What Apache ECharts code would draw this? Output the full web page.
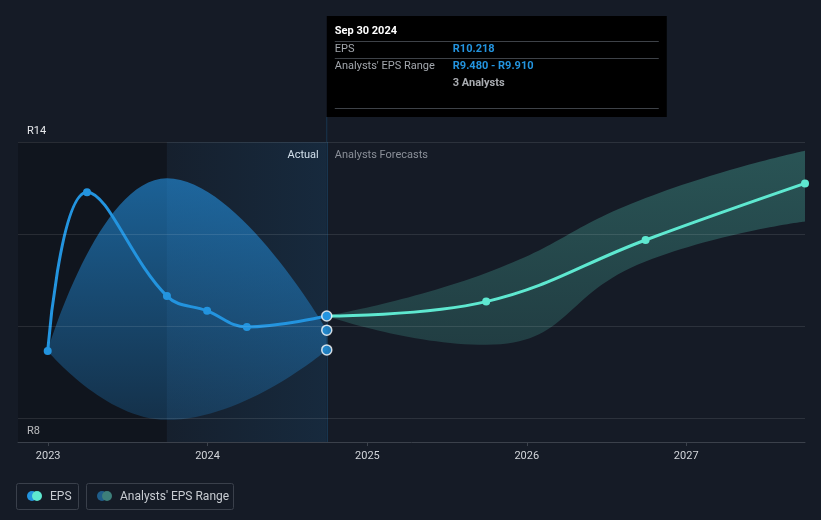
<!DOCTYPE html>
<html>
<head>
<meta charset="utf-8">
<script src="https://cdn.jsdelivr.net/npm/echarts@6/dist/echarts.min.js"></script>
<style>
  html, body { margin: 0; padding: 0; background: #151b26; }
  #chart { width: 821px; height: 520px; }
</style>
</head>
<body>
<div id="chart"></div>
<script>
// EPS data (ZAR)
const pastDates = ['2022-12-31', '2023-03-31', '2023-09-30', '2023-12-31', '2024-03-31', '2024-09-30'];
const pastEps = [9.457, 12.91, 10.65, 10.33, 9.98, 10.218];

const rangeDates = ['2022-12-31', '2023-09-30', '2024-09-30'];
const rangeLow = [9.457, 7.96, 9.48];
const rangeHigh = [9.457, 13.21, 9.91];

const fcDates = ['2024-09-30', '2025-09-30', '2026-09-30', '2027-09-30'];
const fcEps = [10.218, 10.53, 11.87, 13.10];
const fcLow = [10.218, 9.59, 11.40, 12.27];
const fcHigh = [10.218, 11.15, 12.78, 13.81];

const yearTicks = ['2023-01-01', '2024-01-01', '2025-01-01', '2026-01-01', '2027-01-01'];
const gridValues = [8, 10, 12, 14];
const nowDate = '2024-09-30';
const startDate = '2022-10-24';
const endDate = '2027-09-30';

const BLUE = '#2394df';
const TEAL = '#5ee8d0';
const FONT = 'Roboto, "Noto Sans", sans-serif';

const t = d => echarts.time.parse(d).getTime();
// rows are [value, time] so the value column is the one that gets stacked
const rows = (dates, vals) => dates.map((d, i) => [vals[i], t(d)]);
const diffRows = (dates, lo, hi) => dates.map((d, i) => [+(hi[i] - lo[i]).toFixed(3), t(d)]);
const enc = { x: 1, y: 0 };

const chart = echarts.init(document.getElementById('chart'));

chart.setOption({
  backgroundColor: '#151b26',
  animation: false,
  textStyle: { fontFamily: FONT },
  grid: { left: 18, right: 16, top: 142, bottom: 78 },
  xAxis: {
    type: 'value',
    min: t(startDate),
    max: t(endDate),
    axisLine: { lineStyle: { color: '#3b414b', width: 1 } },
    axisTick: {
      show: true, length: 4, lineStyle: { color: '#3b414b' },
      customValues: yearTicks.map(t)
    },
    axisLabel: {
      color: '#d2d5da', fontSize: 11, margin: 9, fontFamily: FONT,
      customValues: yearTicks.map(t),
      formatter: v => String(new Date(v + 43200000).getFullYear())
    },
    splitLine: { show: false }
  },
  yAxis: {
    type: 'value',
    min: 14 - 300 / 46,
    max: 14,
    axisLine: { show: false },
    axisTick: { show: false },
    axisLabel: { show: false },
    splitLine: { show: false }
  },
  series: [
    {
      // background regions + grid lines
      type: 'line',
      data: [],
      z: 0,
      markArea: {
        silent: true,
        data: [
          [{ xAxis: t(startDate), itemStyle: { color: 'rgba(0,0,0,0.2)' } }, { xAxis: t('2023-09-30') }],
          [{
            xAxis: t('2023-09-30'),
            itemStyle: {
              color: new echarts.graphic.LinearGradient(0, 0, 1, 0, [
                { offset: 0, color: 'rgba(35,148,230,0.04)' },
                { offset: 1, color: 'rgba(35,148,230,0.12)' }
              ])
            }
          }, { xAxis: t(nowDate) }]
        ]
      },
      markLine: {
        silent: true,
        symbol: ['none', 'none'],
        label: { show: false },
        lineStyle: { type: 'solid', color: 'rgba(255,255,255,0.1)', width: 1 },
        data: gridValues.map(v => ({ yAxis: v })).concat([
          { xAxis: t(nowDate), lineStyle: { color: 'rgba(35,148,230,0.22)' } }
        ])
      }
    },
    {
      type: 'line', stack: 'past', data: rows(rangeDates, rangeLow), encode: enc,
      smooth: 0.5, symbol: 'none', lineStyle: { width: 0 }, z: 1, silent: true
    },
    {
      type: 'line', stack: 'past', data: diffRows(rangeDates, rangeLow, rangeHigh), encode: enc,
      smooth: 0.5, symbol: 'none', lineStyle: { width: 0 }, z: 1, silent: true,
      areaStyle: {
        opacity: 1,
        color: new echarts.graphic.LinearGradient(0, 0, 0, 1, [
          { offset: 0, color: 'rgba(35,148,230,0.6)' },
          { offset: 1, color: 'rgba(35,148,230,0.22)' }
        ])
      }
    },
    {
      type: 'line', stack: 'fc', data: rows(fcDates, fcLow), encode: enc,
      smooth: 0.5, symbol: 'none', lineStyle: { width: 0 }, z: 1, silent: true
    },
    {
      type: 'line', stack: 'fc', data: diffRows(fcDates, fcLow, fcHigh), encode: enc,
      smooth: 0.5, symbol: 'none', lineStyle: { width: 0 }, z: 1, silent: true,
      areaStyle: {
        opacity: 1,
        color: new echarts.graphic.LinearGradient(0, 0, 0, 1, [
          { offset: 0, color: 'rgba(94,232,208,0.28)' },
          { offset: 1, color: 'rgba(94,232,208,0.17)' }
        ])
      }
    },
    {
      name: 'EPS', type: 'line', data: rows(pastDates, pastEps), encode: enc,
      smooth: 0.4, z: 3,
      symbol: 'circle', symbolSize: 8,
      lineStyle: { color: BLUE, width: 3 },
      itemStyle: { color: BLUE }
    },
    {
      name: 'Forecast', type: 'line', encode: enc,
      data: rows(fcDates, fcEps).map((p, i) => i === 0 ? { value: p, symbol: 'none' } : p),
      smooth: 0.4, z: 3,
      symbol: 'circle', symbolSize: 8,
      lineStyle: { color: TEAL, width: 3 },
      itemStyle: { color: TEAL }
    },
    {
      type: 'scatter', z: 5, encode: enc,
      data: [
        [pastEps[pastEps.length - 1], t(nowDate)],
        [rangeHigh[rangeHigh.length - 1], t(nowDate)],
        [rangeLow[rangeLow.length - 1], t(nowDate)]
      ],
      symbolSize: 10,
      itemStyle: { color: BLUE, borderColor: '#ffffff', borderWidth: 1.5 }
    }
  ]
});

// overlay: tooltip box, axis labels, region captions, legend
const [xNow, yTop] = chart.convertToPixel({ gridIndex: 0 }, [t(nowDate), 14]);
const y8 = chart.convertToPixel({ gridIndex: 0 }, [t(nowDate), 8])[1];

const txt = (x, y, text, color, opts) => ({
  type: 'text', x: x, y: y,
  style: Object.assign({
    text: text, fill: color, font: '11px ' + FONT, verticalAlign: 'middle', align: 'left'
  }, opts || {})
});
const hline = (x1, x2, y, color) => ({
  type: 'line', shape: { x1: x1, y1: y, x2: x2, y2: y }, style: { stroke: color, lineWidth: 1 }
});

const tipX = xNow + 8, valX = xNow + 126;
const legendItem = (x, w, c1, c2, label) => [
  { type: 'rect', shape: { x: x + 0.5, y: 483.5, width: w, height: 26, r: 2 },
    style: { fill: 'transparent', stroke: '#3a404b', lineWidth: 1 } },
  { type: 'circle', shape: { cx: x + 16, cy: 496, r: 5 }, style: { fill: c1 } },
  { type: 'circle', shape: { cx: x + 21, cy: 496, r: 5 }, style: { fill: c2 } },
  txt(x + 34, 496.5, label, '#c8ccd2', { font: '12px ' + FONT })
];

chart.setOption({
  graphic: [
    { type: 'line', shape: { x1: xNow, y1: 117, x2: xNow, y2: yTop },
      style: { stroke: 'rgba(35,148,230,0.22)', lineWidth: 1 } },
    { type: 'rect', shape: { x: xNow, y: 16, width: 340, height: 101 }, style: { fill: '#000000' } },
    txt(tipX, 31.5, 'Sep 30 2024', '#ffffff', { font: 'bold 11px ' + FONT }),
    hline(tipX, xNow + 332, 41.5, '#3e4248'),
    txt(tipX, 49.5, 'EPS', '#a3a7ad'),
    txt(valX, 49.5, 'R10.218', BLUE, { font: 'bold 11px ' + FONT }),
    hline(tipX, xNow + 332, 58.5, '#3e4248'),
    txt(tipX, 66.5, "Analysts' EPS Range", '#a3a7ad'),
    txt(valX, 66.5, 'R9.480 - R9.910', BLUE, { font: 'bold 11px ' + FONT }),
    txt(valX, 83.5, '3 Analysts', '#a8abb0', { font: 'bold 11px ' + FONT }),
    hline(tipX, xNow + 332, 108.5, '#3e4248'),

    txt(27, yTop - 11, 'R14', '#e6e8eb'),
    txt(27, y8 + 13, 'R8', '#e6e8eb'),

    txt(xNow - 8, yTop + 13, 'Actual', '#e6e8eb', { align: 'right' }),
    txt(xNow + 8, yTop + 13, 'Analysts Forecasts', '#8b9099'),

    ...legendItem(16, 62, BLUE, TEAL, 'EPS'),
    ...legendItem(86, 147, '#1f5d8a', '#3d7f7a', "Analysts' EPS Range")
  ]
});
</script>
</body>
</html>
